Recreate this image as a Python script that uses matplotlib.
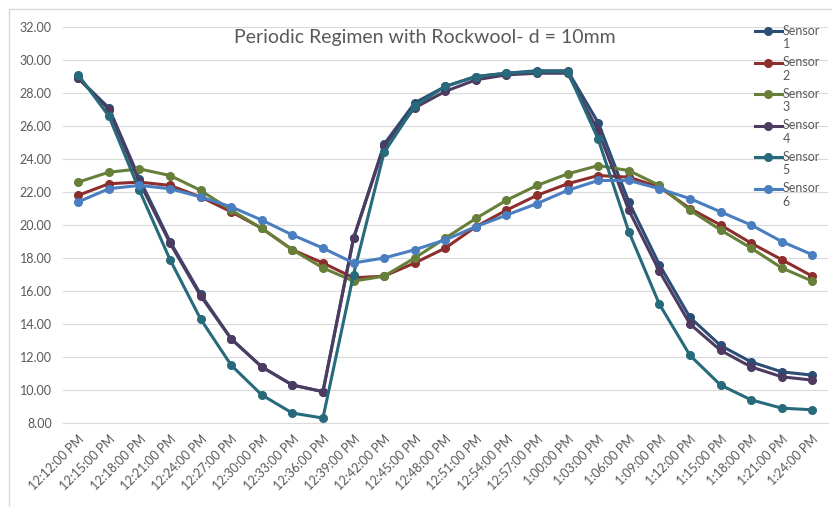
import numpy as np
import matplotlib.pyplot as plt
from matplotlib.lines import Line2D
from matplotlib.legend_handler import HandlerLine2D

plt.rcParams['font.family'] = ['Lato', 'DejaVu Sans']

# Sampling times (every 3 minutes)
times = ['12:12:00 PM', '12:15:00 PM', '12:18:00 PM', '12:21:00 PM', '12:24:00 PM',
         '12:27:00 PM', '12:30:00 PM', '12:33:00 PM', '12:36:00 PM', '12:39:00 PM',
         '12:42:00 PM', '12:45:00 PM', '12:48:00 PM', '12:51:00 PM', '12:54:00 PM',
         '12:57:00 PM', '1:00:00 PM', '1:03:00 PM', '1:06:00 PM', '1:09:00 PM',
         '1:12:00 PM', '1:15:00 PM', '1:18:00 PM', '1:21:00 PM', '1:24:00 PM']

# Temperatures per sensor
sensor1 = [28.9, 27.1, 22.8, 19.0, 15.8, 13.1, 11.4, 10.3, 9.9, 19.2, 24.9, 27.4, 28.4,
           29.0, 29.2, 29.35, 29.35, 26.2, 21.4, 17.6, 14.4, 12.7, 11.7, 11.1, 10.9]
sensor2 = [21.8, 22.5, 22.6, 22.4, 21.7, 20.8, 19.8, 18.5, 17.7, 16.8, 16.9, 17.7, 18.6,
           19.9, 20.9, 21.8, 22.5, 23.0, 22.9, 22.3, 21.0, 20.0, 18.9, 17.9, 16.9]
sensor3 = [22.6, 23.2, 23.4, 23.0, 22.1, 20.9, 19.8, 18.5, 17.4, 16.6, 16.9, 18.0, 19.2,
           20.4, 21.5, 22.4, 23.1, 23.6, 23.3, 22.4, 20.9, 19.7, 18.6, 17.4, 16.6]
sensor4 = [28.9, 27.0, 22.6, 18.9, 15.7, 13.1, 11.4, 10.3, 9.9, 19.2, 24.8, 27.1, 28.1,
           28.8, 29.1, 29.2, 29.2, 25.7, 20.9, 17.2, 14.0, 12.4, 11.4, 10.8, 10.6]
sensor5 = [29.1, 26.6, 22.1, 17.9, 14.3, 11.5, 9.7, 8.6, 8.3, 17.0, 24.4, 27.2, 28.4,
           29.0, 29.2, 29.3, 29.3, 25.2, 19.6, 15.2, 12.1, 10.3, 9.4, 8.9, 8.8]
sensor6 = [21.4, 22.2, 22.4, 22.2, 21.7, 21.1, 20.3, 19.4, 18.6, 17.7, 18.0, 18.5, 19.1,
           19.9, 20.6, 21.3, 22.1, 22.7, 22.7, 22.2, 21.6, 20.8, 20.0, 19.0, 18.2]

series = [sensor1, sensor2, sensor3, sensor4, sensor5, sensor6]
labels = ['Sensor\n1', 'Sensor\n2', 'Sensor\n3', 'Sensor\n4', 'Sensor\n5', 'Sensor\n6']
colors = ['#2C4D75', '#8C2F2C', '#66803A', '#4D3B62', '#276A7C', '#4A7EC0']


class TopLineHandler(HandlerLine2D):
    # put the legend line next to the first text row instead of the middle
    def create_artists(self, legend, orig_handle, xdescent, ydescent, width, height,
                       fontsize, trans):
        artists = super().create_artists(legend, orig_handle, xdescent, ydescent,
                                         width, height, fontsize, trans)
        for a in artists:
            a.set_ydata(np.asarray(a.get_ydata()) + 0.55 * fontsize)
        return artists


fig = plt.figure(figsize=(8.32, 5.07), dpi=100)
ax = fig.add_axes([0.0757, 0.1657, 0.919, 0.781])

x_pos = np.arange(len(times))
lines = []
for vals, lab, col in zip(series, labels, colors):
    ln, = ax.plot(x_pos, vals, color=col, lw=2.2, marker='o', markersize=5.5, label=lab)
    lines.append(ln)

ax.set_xlim(-0.5, len(times) - 0.5)
ax.set_ylim(8, 32)
ax.set_yticks(np.arange(8, 33, 2))
ax.set_yticklabels(['%.2f' % v for v in np.arange(8, 33, 2)])
ax.set_xticks(x_pos)
ax.set_xticklabels(times, rotation=45, ha='right', va='top', rotation_mode='anchor')
ax.tick_params(axis='both', length=0, colors='#595959', labelsize=9)
ax.tick_params(axis='y', pad=8)
ax.tick_params(axis='x', pad=7)
ax.yaxis.grid(True, color='#D9D9D9', lw=0.8)
ax.set_axisbelow(True)
for side in ['top', 'right', 'left']:
    ax.spines[side].set_visible(False)
ax.spines['bottom'].set_color('#D9D9D9')

fig.text(0.511, 0.927, 'Periodic Regimen with Rockwool- d = 10mm', ha='center', va='center',
         fontsize=14, color='#595959')

leg = ax.legend(handles=lines, loc='upper left', bbox_to_anchor=(0.907, 0.951),
                bbox_transform=fig.transFigure, frameon=False, fontsize=9,
                labelspacing=0.48, handlelength=2.2, handletextpad=0.05, borderaxespad=0,
                borderpad=0, handler_map={Line2D: TopLineHandler()})
for t in leg.get_texts():
    t.set_color('#595959')
    t.set_linespacing(1.15)

# chart area border
fig.add_artist(Line2D([0.011, 0.011, 1.0], [0.0, 0.982, 0.982], transform=fig.transFigure,
                      color='#D9D9D9', lw=1))

fig.savefig('out.png', dpi=100)
